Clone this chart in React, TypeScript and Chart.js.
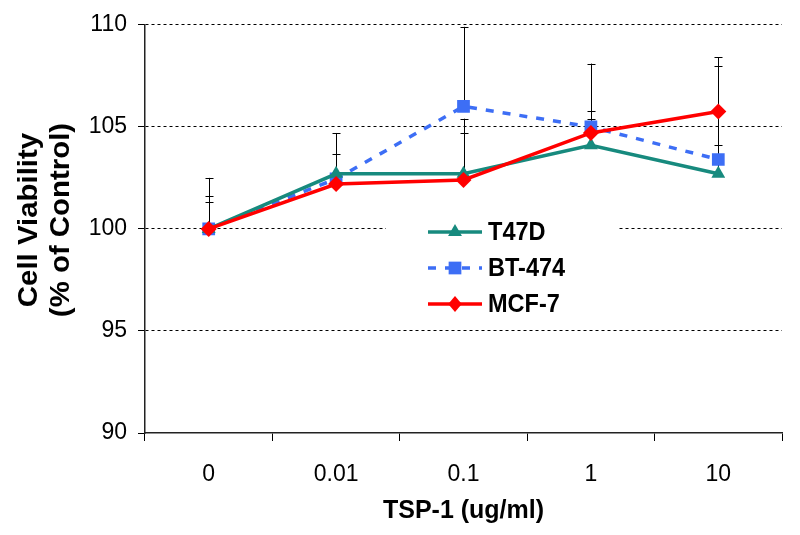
import React, { useEffect, useRef } from "react";
import { Chart, registerables } from "chart.js";

Chart.register(...registerables);

const categories = ["0", "0.01", "0.1", "1", "10"];
const t47d = [100, 102.7, 102.7, 104.1, 102.7];
const bt474 = [100, 102.45, 106.0, 105.0, 103.4];
const mcf7 = [100, 102.2, 102.4, 104.7, 105.75];
const t47dErr = [1.6, 2.0, 2.7, 1.3, 1.4];
const bt474Err = [2.5, 0.3, 3.9, 0.8, 4.6];
const mcf7Err = [1.3, 1.45, 2.3, 3.4, 2.65];
const yMin = 90;
const yMax = 110;
const yStep = 5;
const xTitle = "TSP-1 (ug/ml)";
const yTitle = ["Cell Viability", "(% of Control)"];

const FONT = "'Liberation Sans', Arial, sans-serif";

const errorBarPlugin = {
  id: "errorBars",
  beforeDatasetsDraw(chart: any) {
    const ctx = chart.ctx;
    const yScale = chart.scales.y;
    ctx.save();
    ctx.strokeStyle = "#000";
    ctx.lineWidth = 1;
    chart.data.datasets.forEach((ds: any, i: number) => {
      const meta = chart.getDatasetMeta(i);
      const errs = ds.errors as number[];
      meta.data.forEach((pt: any, j: number) => {
        const top = yScale.getPixelForValue(ds.data[j] + errs[j]);
        const x = Math.round(pt.x) + 0.5;
        ctx.beginPath();
        ctx.moveTo(x, pt.y);
        ctx.lineTo(x, top);
        ctx.moveTo(x - 4, Math.round(top) + 0.5);
        ctx.lineTo(x + 4, Math.round(top) + 0.5);
        ctx.stroke();
      });
    });
    ctx.restore();
  },
};

function drawMarker(ctx: CanvasRenderingContext2D, style: string, x: number, y: number, r: number, color: string) {
  ctx.fillStyle = color;
  ctx.beginPath();
  if (style === "triangle") {
    ctx.moveTo(x, y - r);
    ctx.lineTo(x + r * 0.866, y + r * 0.5);
    ctx.lineTo(x - r * 0.866, y + r * 0.5);
    ctx.closePath();
  } else if (style === "rect") {
    const s = r * Math.SQRT1_2;
    ctx.rect(x - s, y - s, 2 * s, 2 * s);
  } else {
    ctx.moveTo(x, y - r);
    ctx.lineTo(x + r * 0.85, y);
    ctx.lineTo(x, y + r);
    ctx.lineTo(x - r * 0.85, y);
    ctx.closePath();
  }
  ctx.fill();
}

const legendPlugin = {
  id: "customLegend",
  afterDatasetsDraw(chart: any) {
    const ctx = chart.ctx;
    ctx.save();
    ctx.fillStyle = "#fff";
    ctx.fillRect(386, 206, 233, 112);
    const rows = [232, 268, 304];
    chart.data.datasets.forEach((ds: any, i: number) => {
      const y = rows[i];
      ctx.strokeStyle = ds.borderColor;
      ctx.lineWidth = 3.5;
      ctx.setLineDash(ds.borderDash || []);
      ctx.beginPath();
      ctx.moveTo(428, y);
      ctx.lineTo(482, y);
      ctx.stroke();
      ctx.setLineDash([]);
      drawMarker(ctx, ds.pointStyle, 455, y, ds.pointRadius, ds.borderColor);
      ctx.save();
      ctx.fillStyle = "#000";
      ctx.font = `bold 22px ${FONT}`;
      ctx.textAlign = "left";
      ctx.textBaseline = "middle";
      ctx.translate(488, y + 1);
      ctx.scale(1.07, 1.15);
      ctx.fillText(ds.label, 0, 0);
      ctx.restore();
    });
    ctx.restore();
  },
  afterDraw(chart: any) {
    const ctx = chart.ctx;
    ctx.save();
    ctx.fillStyle = "#000";
    ctx.font = `bold 28px ${FONT}`;
    ctx.textAlign = "center";
    ctx.textBaseline = "middle";
    const lineX = [29, 61];
    yTitle.forEach((t, i) => {
      ctx.save();
      ctx.translate(lineX[i], 220);
      ctx.rotate(-Math.PI / 2);
      ctx.scale(1.05, 1);
      ctx.fillText(t, 0, 0);
      ctx.restore();
    });
    ctx.restore();
  },
};

export default function App() {
  const ref = useRef<HTMLCanvasElement>(null);
  useEffect(() => {
    document.body.style.margin = "0";
    const chart = new Chart(ref.current as HTMLCanvasElement, {
      type: "line",
      data: {
        labels: categories,
        datasets: [
          {
            label: "T47D",
            data: t47d,
            errors: t47dErr,
            borderColor: "#178a7e",
            backgroundColor: "#178a7e",
            borderWidth: 3.5,
            pointStyle: "triangle",
            pointRadius: 8,
            pointBorderWidth: 0,
            order: 2,
          } as any,
          {
            label: "BT-474",
            data: bt474,
            errors: bt474Err,
            borderColor: "#3d6ef5",
            backgroundColor: "#3d6ef5",
            borderWidth: 3.5,
            borderDash: [8, 9],
            pointStyle: "rect",
            pointRadius: 9,
            pointBorderWidth: 0,
            order: 3,
          } as any,
          {
            label: "MCF-7",
            data: mcf7,
            errors: mcf7Err,
            borderColor: "#ff0000",
            backgroundColor: "#ff0000",
            borderWidth: 3.5,
            pointStyle: "rectRot",
            pointRadius: 8,
            pointBorderWidth: 0,
            order: 1,
          } as any,
        ],
      },
      options: {
        animation: false,
        responsive: false,
        layout: { padding: { top: 22, right: 18, left: 0, bottom: 0 } },
        plugins: { legend: { display: false }, tooltip: { enabled: false } },
        scales: {
          x: {
            type: "category",
            offset: true,
            grid: {
              offset: true,
              drawOnChartArea: false,
              drawTicks: true,
              tickLength: 8,
              color: "#000",
              tickColor: "#000",
            },
            border: { display: true, color: "#222", width: 1.5 },
            ticks: { color: "#000", padding: 20, font: { family: FONT, size: 23 } },
            title: {
              display: true,
              text: xTitle,
              color: "#000",
              font: { family: FONT, size: 25, weight: "bold" },
              padding: { top: 0, bottom: 9 },
            },
            afterFit(scale: any) {
              scale.height = 102;
            },
          },
          y: {
            min: yMin,
            max: yMax,
            ticks: {
              stepSize: yStep,
              color: "#000",
              padding: 11,
              font: { family: FONT, size: 23 },
            },
            grid: {
              color: (c: any) => (c.tick && c.tick.value === yMin ? "rgba(0,0,0,0)" : "#000"),
              tickColor: "#000",
              lineWidth: 1,
              tickLength: 7,
              drawTicks: true,
            },
            border: { display: true, color: "#222", width: 1.5, dash: [3, 3] },
            afterFit(scale: any) {
              scale.width = 145;
            },
          },
        },
      },
      plugins: [errorBarPlugin, legendPlugin],
    } as any);
    return () => chart.destroy();
  }, []);
  return (
    <div style={{ width: 800, height: 535 }}>
      <canvas ref={ref} width={800} height={535} style={{ display: "block" }} />
    </div>
  );
}
